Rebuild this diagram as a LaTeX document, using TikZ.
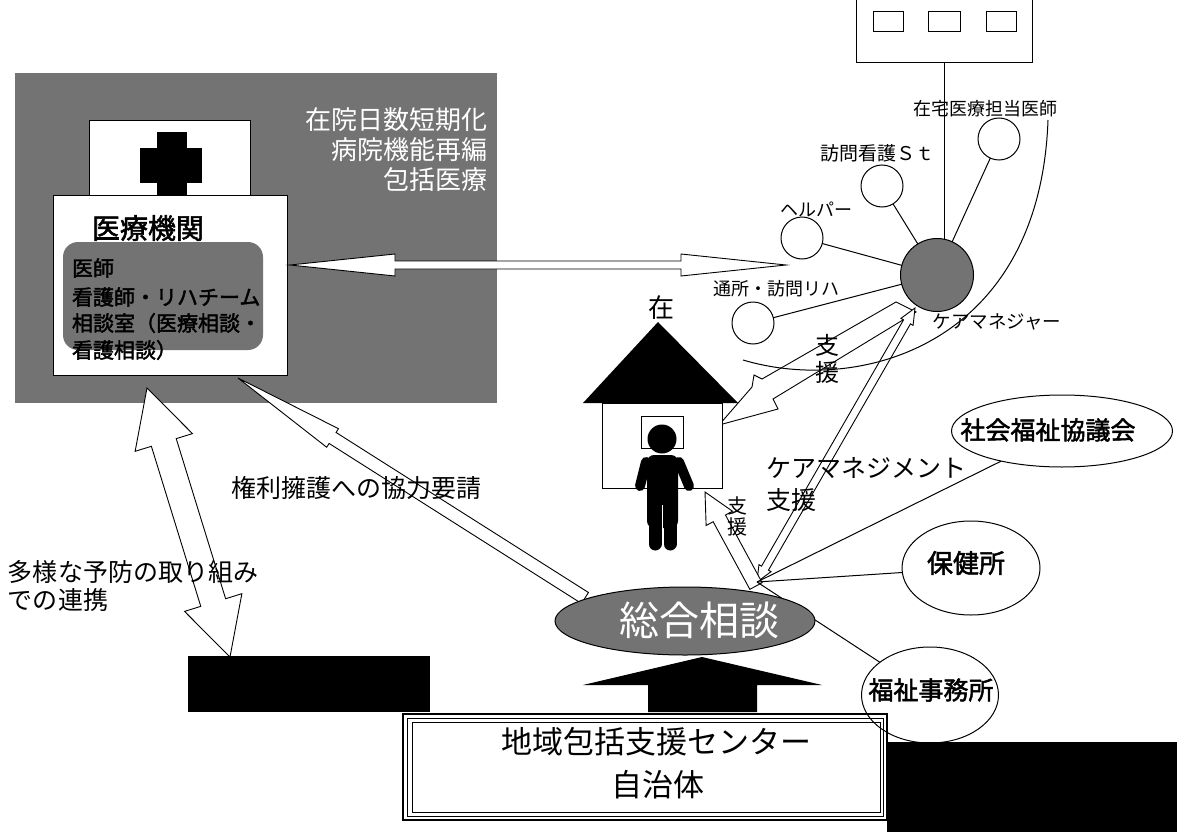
\documentclass[tikz,border=0pt]{standalone}
\usepackage{fontspec}
\setmainfont{Liberation Sans}
\newfontfamily\jp{Noto Sans CJK JP}
\newfontfamily\jpbold{Noto Sans CJK JP}[FakeBold=2]
\usetikzlibrary{calc,shapes.geometric}
\definecolor{noise}{gray}{0.45}
\newcommand{\jfs}[1]{\fontsize{#1pt}{#1pt}\selectfont}
% block arrow with a head at both ends: #1 #2 ends, #3 head length, #4 head half width, #5 shaft half width
\newcommand{\twoheadblock}[5]{%
  \coordinate (ba) at ($(#1)!#3!(#2)$);
  \coordinate (bb) at ($(#2)!#3!(#1)$);
  \draw[blockarrow] (#1) -- ($(ba)!#4!90:(#2)$) -- ($(ba)!#5!90:(#2)$)
    -- ($(bb)!#5!-90:(#1)$) -- ($(bb)!#4!-90:(#1)$) -- (#2)
    -- ($(bb)!#4!90:(#1)$) -- ($(bb)!#5!90:(#1)$)
    -- ($(ba)!#5!-90:(#2)$) -- ($(ba)!#4!-90:(#2)$) -- cycle;}
% block arrow from tail #1 to tip #2
\newcommand{\oneheadblock}[5]{%
  \coordinate (bh) at ($(#2)!#3!(#1)$);
  \draw[blockarrow] (#2) -- ($(bh)!#4!90:(#1)$) -- ($(bh)!#5!90:(#1)$)
    -- ($(#1)!#5!-90:(#2)$) -- ($(#1)!#5!90:(#2)$)
    -- ($(bh)!#5!-90:(#1)$) -- ($(bh)!#4!-90:(#1)$) -- cycle;}
\begin{document}
\begin{tikzpicture}[x=1pt,y=-1pt,line width=1pt,
  every node/.style={inner sep=0pt,outer sep=0pt},
  blockarrow/.style={draw=black,fill=white,line width=0.9pt,line join=miter},
  ring/.style={circle,draw,fill=white,minimum size=42pt},
  oval/.style={ellipse,draw,fill=white,line width=1pt},
  lbl/.style={font=\jp\jfs{18}},
  txt/.style={font=\jp\jfs{25}},
  bold/.style={font=\jpbold\jfs{25}},
  staffline/.style={anchor=west,font=\jpbold\jfs{21}},
  oncaption/.style={anchor=east,font=\jp\jfs{26},text=white}]
\useasboundingbox (0,0) rectangle (1177,832);
\fill[white] (0,0) rectangle (1177,832);

% ---------- hospital ----------
\node[fill=noise,minimum width=482pt,minimum height=330pt,anchor=north west] (hosparea) at (15,73) {};
\node[draw,fill=white,minimum width=161pt,minimum height=75pt,anchor=north west] (crossbox) at (89,121) {};
\fill (157,132) rectangle (187,195);
\fill (140,148) rectangle (202,183);
\node[draw,fill=white,minimum width=234pt,minimum height=180pt,anchor=north west] (hospital) at (53,195) {};
\node[font=\jpbold\jfs{28},anchor=center] (hosptitle) at (148,228) {医療機関};
\node[fill=noise,rounded corners=15pt,minimum width=200pt,minimum height=108pt,anchor=north west] (staff) at (63,242) {};
\node[staffline] (s1) at (72,268) {医師};
\node[staffline] (s2) at (72,297) {看護師・リハチーム};
\node[staffline] (s3) at (72,323) {相談室（医療相談・};
\node[staffline] (s4) at (72,350) {看護相談）};
\node[oncaption] (h1) at (487,120) {在院日数短期化};
\node[oncaption] (h2) at (487,150) {病院機能再編};
\node[oncaption] (h3) at (487,180) {包括医療};

% hospital <-> home services
\coordinate (hzA) at (290,265);
\coordinate (hzB) at (786,265);
\twoheadblock{hzA}{hzB}{105pt}{11pt}{4pt}

% ---------- clinic building ----------
\node[draw,fill=white,minimum width=176pt,minimum height=90pt,anchor=south west] (clinic) at (856,63) {};
\node[draw,minimum width=30pt,minimum height=20pt] (win1) at (888,22) {};
\node[draw,minimum width=32pt,minimum height=20pt] (win2) at (944,22) {};
\node[draw,minimum width=30pt,minimum height=20pt] (win3) at (1001,22) {};
\coordinate (clinicfoot) at (944,63);

% ---------- arrows around the home ----------
\draw[blockarrow] (896,302) -- (762,379) -- (754,375) -- (752,387) -- (719,425)
  -- (778,409) -- (773,399) -- (916,312) -- cycle;
\coordinate (hub) at (757,582);
\coordinate (cmfoot) at (915,308);
\twoheadblock{hub}{cmfoot}{16pt}{7pt}{4pt}
\coordinate (supA) at (756,586);
\coordinate (supB) at (705,492);
\oneheadblock{supA}{supB}{30pt}{15pt}{7pt}
\coordinate (kenA) at (585,598);
\coordinate (kenB) at (238,378);
\oneheadblock{kenA}{kenB}{112pt}{11pt}{6.5pt}
\coordinate (yoboA) at (147,388);
\coordinate (yoboB) at (230,657);
\twoheadblock{yoboA}{yoboB}{57pt}{30pt}{13pt}

% care network curve
\coordinate (arcA) at (743,360);
\coordinate (arcB) at (1048,120);
\draw (arcA) .. controls (860,395) and (1040,345) .. (arcB);

% ---------- care manager and services ----------
\node[circle,draw,fill=noise,minimum size=73pt] (cm) at (937,275) {};
\node[ring] (doctor) at (999,139) {};
\node[ring] (nurse) at (882,186) {};
\node[ring] (helper) at (802,238) {};
\node[ring] (rehab) at (753,323) {};
\draw (clinicfoot) -- (clinicfoot |- cm.north);
\draw (doctor) -- (cm);
\draw (nurse) -- (cm);
\draw (helper) -- (cm);
\draw (rehab) -- (cm);
\node[lbl] (doctorlbl) at (985,109) {在宅医療担当医師};
\node[lbl,font=\jp\jfs{19}] (nurselbl) at (877,153) {訪問看護Ｓｔ};
\node[lbl] (helperlbl) at (816,209) {ヘルパー};
\node[lbl] (rehablbl) at (776,289) {通所・訪問リハ};
\node[lbl,font=\jp\jfs{18.5}] (cmlbl) at (997,322) {ケアマネジャー};
\node[font=\jp\jfs{24},align=center] (shien1) at (827,359) {支\\[3pt]援};

% ---------- home ----------
\fill (583,403) -- (658,322) -- (738,403) -- cycle;
\node[draw,fill=white,minimum width=120pt,minimum height=85pt,anchor=north west] (house) at (602,403) {};
\node[draw,minimum width=42pt,minimum height=32pt,anchor=north west] (window) at (641,416) {};
\fill (662,439) circle (14.5);
\fill[rounded corners=7pt] (647,528) -- (647,455) -- (678,455) -- (678,528) -- cycle;
\draw[line width=13pt,line cap=round] (655,515) -- (655,544);
\draw[line width=13pt,line cap=round] (670,515) -- (670,544);
\draw[white,line width=1.5pt] (662.5,505) -- (662.5,552);
\draw[line width=10pt,line cap=round] (646,462) -- (640,486);
\draw[line width=10pt,line cap=round] (679,462) -- (689,486);
\node[font=\jp\jfs{26}] (zai) at (661,308) {在};

% ---------- community partners ----------
\node[oval,minimum width=221pt,minimum height=72pt] (shakyo) at (1062,431) {};
\node[oval,minimum width=138pt,minimum height=94pt] (hoken) at (971,568) {};
\node[oval,minimum width=137pt,minimum height=96pt] (fukushi) at (930,695) {};
\draw (hub) -- (shakyo);
\draw (hub) -- (hoken);
\draw (hub) -- (fukushi);
\node[bold] (shakyot) at (1048,430) {社会福祉協議会};
\node[bold,font=\jpbold\jfs{26}] (hokent) at (966,563) {保健所};
\node[bold] (fukushit) at (931,690) {福祉事務所};

\node[txt,anchor=west] (cmsup1) at (766,468) {ケアマネジメント};
\node[txt,anchor=west] (cmsup2) at (766,500) {支援};
\node[font=\jp\jfs{20},align=center] (shien2) at (737,516) {支\\[1pt]援};
\node[txt] (kenri) at (356,488) {権利擁護への協力要請};
\node[txt,anchor=west] (yobo1) at (8,572) {多様な予防の取り組み};
\node[txt,anchor=west] (yobo2) at (8,600) {での連携};

% ---------- consultation and center ----------
\fill (648,712) -- (648,685) -- (583,685) -- (702,657) -- (822,685) -- (757,685) -- (757,712) -- cycle;
\node[ellipse,draw,fill=noise,minimum width=260pt,minimum height=68pt] (sogo) at (685,621) {};
\node[font=\jp\jfs{40},text=white] (sogot) at (699,620) {総合相談};

\fill (188,656) rectangle (430,712);

\node[draw,line width=1.4pt,minimum width=484pt,minimum height=106pt,anchor=north west] (center) at (403,714) {};
\node[draw,line width=0.8pt,minimum width=476pt,minimum height=98pt,anchor=north west] (centerin) at (407,718) {};
\node[draw,line width=0.6pt,minimum width=468pt,minimum height=90pt,anchor=north west] (centerin2) at (412,722) {};
\node[font=\jp\jfs{31}] (centert1) at (656,742) {地域包括支援センター};
\node[font=\jp\jfs{31}] (centert2) at (658,785) {自治体};

\fill (887,742) rectangle (1177,832);
\end{tikzpicture}
\end{document}
